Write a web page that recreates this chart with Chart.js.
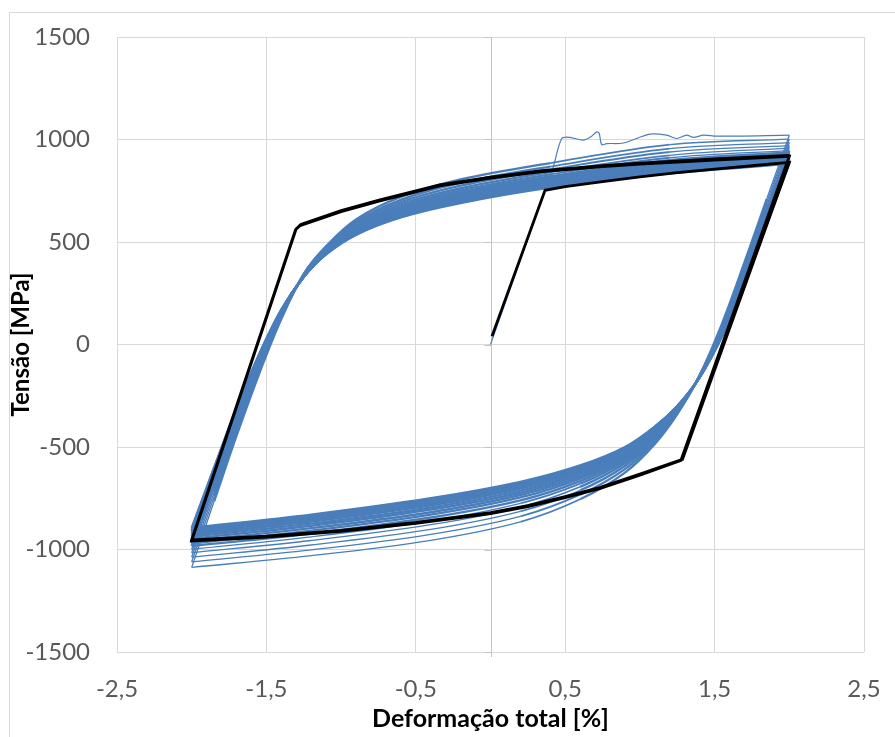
<!DOCTYPE html>
<html>
<head>
<meta charset="utf-8">
<title>Tensão x Deformação</title>
<script src="https://cdn.jsdelivr.net/npm/chart.js@4.4.1/dist/chart.umd.min.js"></script>
<style>
  html, body { margin: 0; padding: 0; background: #ffffff; }
  #wrap { width: 895px; height: 737px; position: relative; }
</style>
</head>
<body>
<div id="wrap"><canvas id="c" width="895" height="737"></canvas></div>
<script>
// ---- axis ticks ----
const xTickValues = [-2.5, -1.5, -0.5, 0.5, 1.5, 2.5];
const xTickLabels = ['-2,5', '-1,5', '-0,5', '0,5', '1,5', '2,5'];
const yTickValues = [-1500, -1000, -500, 0, 500, 1000, 1500];
const yTickLabels = ['-1500', '-1000', '-500', '0', '500', '1000', '1500'];

// ---- measured test: first loading (strain %, stress MPa) ----
const strainFirst = [0, 0.365, 0.42, 0.477, 0.532, 0.621, 0.677, 0.711, 0.728, 0.744, 0.778, 0.889, 1.068, 1.179, 1.246, 1.313, 1.358, 1.425, 1.514, 2.0];
const stressFirst = [0, 752, 866, 1005, 1010, 997, 1016, 1037, 1029, 975, 980, 983, 1026, 1021, 1005, 1021, 1010, 1021, 1016, 1021];

// ---- measured test: cycles, unloading branches (+2 % -> -2 %) ----
const strainDown = [2.0, 1.85, 1.7, 1.55, 1.4, 1.25, 1.1, 0.9, 0.6, 0.2, -0.4, -1.2, -2.0];
const stressDown = [
  [1021, 712, 400, 102, -150, -340, -485, -625, -755, -865, -955, -1030, -1087],
  [1002, 695, 386, 93, -151, -334, -473, -608, -732, -838, -926, -1002, -1060],
  [985, 680, 374, 86, -153, -330, -463, -593, -712, -814, -902, -978, -1037],
  [970, 667, 363, 79, -154, -325, -454, -579, -694, -793, -879, -956, -1016],
  [958, 656, 354, 74, -155, -322, -446, -568, -679, -775, -861, -938, -999],
  [946, 646, 346, 69, -155, -318, -439, -558, -666, -760, -844, -922, -983],
  [937, 638, 339, 64, -156, -316, -433, -549, -654, -746, -830, -908, -970],
  [929, 630, 333, 60, -157, -313, -428, -541, -645, -734, -818, -896, -958],
  [920, 623, 327, 57, -157, -311, -423, -534, -635, -723, -805, -884, -947],
  [913, 617, 322, 54, -158, -309, -419, -528, -626, -713, -795, -874, -937],
  [906, 611, 317, 51, -158, -307, -415, -521, -618, -703, -785, -864, -928],
  [901, 606, 313, 48, -159, -305, -411, -516, -612, -695, -777, -856, -920],
  [895, 601, 309, 46, -159, -304, -408, -511, -605, -688, -769, -848, -912],
  [891, 597, 306, 44, -159, -302, -405, -508, -600, -682, -762, -842, -907],
  [887, 594, 303, 42, -160, -301, -403, -504, -595, -676, -756, -836, -901],
  [883, 590, 300, 40, -160, -300, -400, -500, -590, -670, -750, -830, -895]
];

// ---- measured test: cycles, reloading branches (-2 % -> +2 %) ----
const strainUp = [-2.0, -1.85, -1.7, -1.55, -1.4, -1.25, -1.1, -0.9, -0.6, -0.2, 0.4, 1.2, 2.0];
const stressUp = [
  [-1087, -765, -445, -145, 125, 345, 480, 610, 720, 805, 885, 975, 1002],
  [-1060, -742, -426, -132, 131, 342, 474, 600, 706, 789, 868, 955, 985],
  [-1037, -722, -410, -120, 137, 340, 470, 591, 694, 775, 854, 939, 970],
  [-1016, -704, -395, -110, 142, 338, 465, 582, 683, 762, 841, 923, 958],
  [-999, -689, -383, -101, 146, 336, 462, 576, 674, 752, 830, 911, 946],
  [-983, -676, -372, -94, 149, 335, 458, 570, 666, 743, 820, 899, 937],
  [-970, -664, -363, -87, 152, 334, 456, 564, 659, 735, 812, 890, 929],
  [-958, -655, -355, -81, 155, 333, 453, 560, 653, 728, 805, 881, 920],
  [-947, -645, -347, -76, 158, 332, 451, 555, 647, 721, 797, 873, 913],
  [-937, -636, -340, -71, 160, 332, 449, 552, 642, 715, 791, 866, 906],
  [-928, -628, -333, -66, 162, 331, 447, 548, 637, 710, 785, 859, 901],
  [-920, -622, -328, -62, 164, 331, 445, 545, 633, 705, 781, 853, 895],
  [-912, -615, -322, -59, 166, 330, 444, 542, 629, 700, 776, 848, 891],
  [-907, -610, -318, -56, 167, 330, 442, 540, 626, 697, 772, 843, 887],
  [-901, -605, -314, -53, 169, 330, 441, 537, 623, 693, 769, 839, 883],
  [-895, -600, -310, -50, 170, 330, 440, 535, 620, 690, 765, 835, 881]
];

// ---- bilinear model (black curve) ----
const modelStrain = [
  0.01, 0.365, 0.5, 0.75, 1.0, 1.25, 1.5, 1.75, 2.0,
  1.285, 1.0, 0.73, 0.5, 0.25, 0, -0.5, -1.0, -1.5, -2.0,
  -1.305, -1.275, -1.0, -0.74, -0.34, 0, 0.33, 0.75, 1.0, 1.5, 2.0,
  1.275, 1.0, 0.73, 0.5, 0.25, 0, -0.5, -1.0, -1.5, -2.0,
  -1.3, -1.27, -1.0, -0.74, -0.34, 0, 0.33, 0.75, 1.0, 1.5, 2.0
];
const modelStress = [
  40, 752, 770, 795, 818, 838, 856, 872, 888,
  -560, -632, -698, -742, -786, -820, -868, -907, -935, -953,
  560, 580, 648, 700, 774, 812, 842, 868, 880, 900, 918,
  -565, -637, -703, -747, -791, -825, -873, -912, -940, -958,
  565, 585, 653, 705, 779, 817, 847, 873, 885, 905, 922
];

const BLUE = '#4A7EBB';
const pts = (xs, ys) => xs.map((x, i) => ({ x: x, y: ys[i] }));

// line weight per segment: the first cycles stand out as thin lines near the tips,
// everything else merges into the stabilised band
const THIN = 1.3, MID = 1.8, THICK = 2.4;
const midX = c => (c.p0.parsed.x + c.p1.parsed.x) / 2;
const upWeight = first => c => {
  if (!first) return THICK;
  const m = midX(c);
  if (m < -1.85) return THIN;
  if (m <= 0.4) return THICK;
  if (m <= 1.2) return MID;
  return THIN;
};
const downWeight = first => c => {
  if (!first) return THICK;
  const m = midX(c);
  if (m > 1.85) return THIN;
  if (m >= 0.6) return THICK;
  if (m >= 0.2) return MID;
  return THIN;
};

const datasets = [];
datasets.push({
  label: 'Modelo',
  data: pts(modelStrain, modelStress),
  borderColor: '#000000',
  borderWidth: 2.8,
  tension: 0,
  order: 0
});
datasets.push({
  label: 'Ensaio',
  data: pts(strainFirst, stressFirst),
  borderColor: BLUE,
  borderWidth: 1.2,
  tension: 0.3,
  order: 1
});
stressDown.forEach((ys, k) => {
  const first = k < 5;
  datasets.push({
    label: 'descarga ' + (k + 1), data: pts(strainDown, ys), borderColor: BLUE,
    borderWidth: first ? THIN : THICK, segment: { borderWidth: downWeight(first) },
    tension: 0.35, order: 1
  });
  datasets.push({
    label: 'recarga ' + (k + 1), data: pts(strainUp, stressUp[k]), borderColor: BLUE,
    borderWidth: first ? THIN : THICK, segment: { borderWidth: upWeight(first) },
    tension: 0.35, order: 1
  });
});

// white page, outer frame and the vertical axis through zero
const framePlugin = {
  id: 'framePlugin',
  beforeDraw(chart) {
    const { ctx, width, height } = chart;
    ctx.save();
    ctx.fillStyle = '#ffffff';
    ctx.fillRect(0, 0, width, height);
    ctx.strokeStyle = '#d9d9d9';
    ctx.lineWidth = 1;
    ctx.strokeRect(9.5, 12.5, width + 40, height + 40);
    ctx.restore();
  },
  beforeDatasetsDraw(chart) {
    const { ctx } = chart;
    const xs = chart.scales.x, ys = chart.scales.y;
    const x0 = Math.round(xs.getPixelForValue(0)) + 0.5;
    ctx.save();
    ctx.strokeStyle = '#c4c4c4';
    ctx.lineWidth = 1;
    ctx.beginPath();
    ctx.moveTo(x0, ys.top);
    ctx.lineTo(x0, ys.bottom + 5);
    yTickValues.forEach(v => {
      const py = Math.round(ys.getPixelForValue(v)) + 0.5;
      ctx.moveTo(x0 - 7, py);
      ctx.lineTo(x0, py);
    });
    ctx.stroke();
    ctx.restore();
  }
};

Chart.defaults.font.family = 'Lato, "Open Sans", "Liberation Sans", sans-serif';

new Chart(document.getElementById('c'), {
  type: 'scatter',
  data: { datasets: datasets },
  options: {
    responsive: false,
    animation: false,
    events: [],
    layout: { padding: { left: 0, right: 31, top: 37, bottom: 0 }, autoPadding: false },
    elements: { point: { radius: 0 }, line: { fill: false } },
    datasets: { scatter: { showLine: true, pointRadius: 0 } },
    plugins: { legend: { display: false }, tooltip: { enabled: false } },
    scales: {
      x: {
        type: 'linear',
        min: -2.5,
        max: 2.5,
        afterBuildTicks: s => { s.ticks = xTickValues.map(v => ({ value: v })); },
        afterFit: s => { s.height = 85; s.paddingLeft = 0; s.paddingRight = 0; },
        ticks: {
          autoSkip: false,
          maxRotation: 0,
          padding: 23,
          color: '#595959',
          font: { size: 24 },
          callback: v => xTickLabels[xTickValues.indexOf(v)]
        },
        grid: { color: '#d9d9d9', lineWidth: 1, drawTicks: false },
        border: { display: false },
        title: {
          display: true,
          text: 'Deformação total [%]',
          color: '#000000',
          font: { size: 25, weight: 'bold' },
          padding: { top: 0, bottom: 3 }
        }
      },
      y: {
        type: 'linear',
        min: -1500,
        max: 1500,
        afterBuildTicks: s => { s.ticks = yTickValues.map(v => ({ value: v })); },
        afterFit: s => { s.width = 117; s.paddingTop = 0; s.paddingBottom = 0; },
        ticks: {
          padding: 27,
          color: '#595959',
          font: { size: 24 },
          callback: v => yTickLabels[yTickValues.indexOf(v)]
        },
        grid: { color: '#d9d9d9', lineWidth: 1, drawTicks: false },
        border: { display: false },
        title: {
          display: true,
          text: 'Tensão [MPa]',
          color: '#000000',
          font: { size: 24, weight: 'bold' },
          padding: { top: 7, bottom: 0 }
        }
      }
    }
  },
  plugins: [framePlugin]
});
</script>
</body>
</html>
